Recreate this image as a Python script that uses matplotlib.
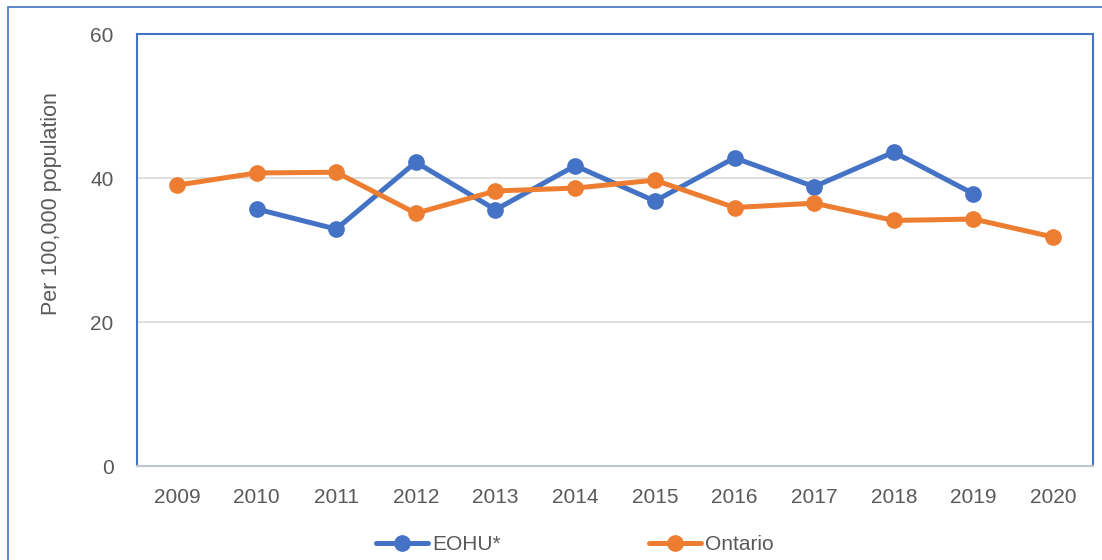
import numpy as np
import matplotlib
matplotlib.use("Agg")
from matplotlib import pyplot as plt
from matplotlib.patches import Rectangle

years = ["2009", "2010", "2011", "2012", "2013", "2014",
         "2015", "2016", "2017", "2018", "2019", "2020"]
eohu = [np.nan, 35.7, 32.9, 42.2, 35.6, 41.7, 36.8, 42.8, 38.8, 43.6, 37.8, np.nan]
ontario = [39.0, 40.7, 40.8, 35.1, 38.2, 38.6, 39.7, 35.9, 36.5, 34.1, 34.3, 31.8]

plt.rcParams['font.family'] = ['Liberation Sans', 'DejaVu Sans']

blue = "#4472C4"
orange = "#ED7D31"
txt = "#595959"

fig = plt.figure(figsize=(11.02, 5.6), dpi=100)
# outer chart border (only left/top visible in picture)
fig.patches.append(Rectangle((8 / 1102, -0.05), 1.1, 1 - 7 / 560 + 0.05,
                             transform=fig.transFigure, fill=False,
                             edgecolor=blue, lw=1.2))

ax = fig.add_axes([137 / 1102, 1 - 466 / 560, (1093 - 137) / 1102, (466 - 34) / 560])
x = np.arange(len(years))

ax.plot(x, eohu, color=blue, lw=3.6, marker="o", ms=11, label="EOHU*",
        solid_capstyle="round", zorder=3)
ax.plot(x, ontario, color=orange, lw=3.6, marker="o", ms=11, label="Ontario",
        solid_capstyle="round", zorder=3)

ax.set_xlim(-0.5, 11.5)
ax.set_ylim(0, 60)
ax.set_yticks([0, 20, 40, 60])
ax.set_xticks(x)
ax.set_xticklabels(years)
ax.tick_params(axis="both", length=0, labelsize=15, colors=txt)
ax.tick_params(axis="y", pad=17)
ax.tick_params(axis="x", pad=16)
for y in [20, 40]:
    ax.axhline(y, color="#D9D9D9", lw=1.2, zorder=1)

for s in ["left", "right", "top"]:
    ax.spines[s].set_color(blue)
    ax.spines[s].set_linewidth(1.5)
ax.spines["bottom"].set_color("#BFC5D2")
ax.spines["bottom"].set_linewidth(1.5)

fig.text(52 / 1102, 1 - 204 / 560, "Per 100,000 population", rotation=90,
         ha="center", va="center", fontsize=15.5, color=txt)

fig.legend(loc="center", bbox_to_anchor=(0.522, 1 - 545 / 560), ncol=2,
           frameon=False, fontsize=15, handlelength=2.5, handletextpad=0.2,
           columnspacing=7.1, labelcolor=txt)

fig.savefig("out.png", dpi=100)
